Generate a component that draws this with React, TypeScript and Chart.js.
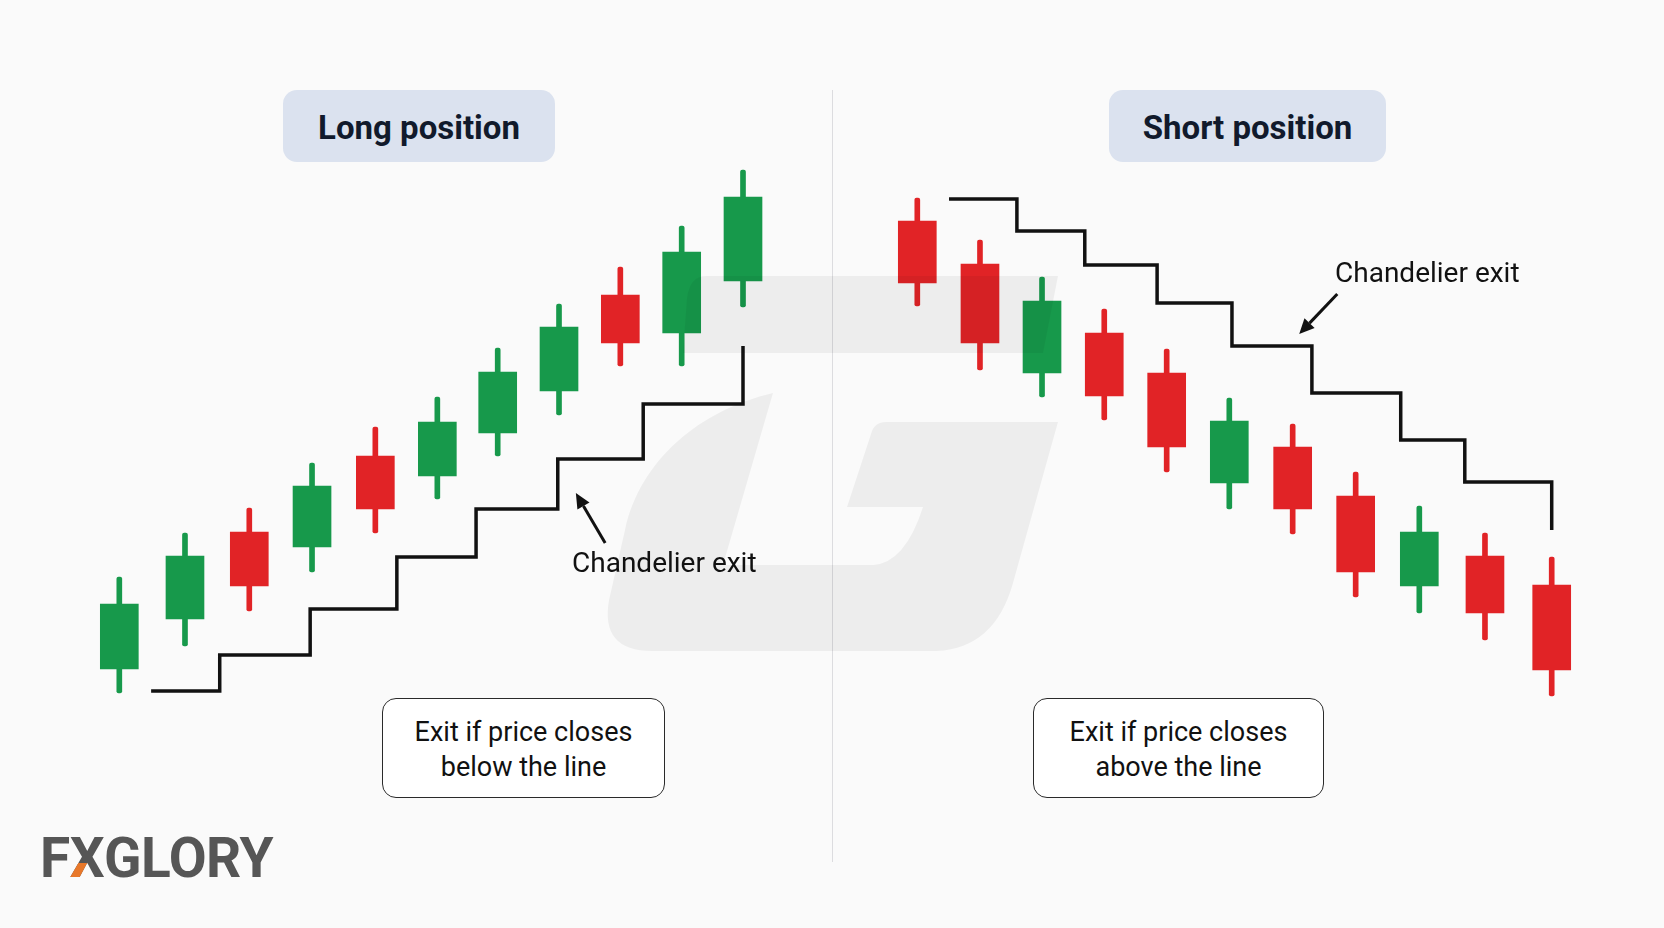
import React, { useEffect, useRef } from "react";
import { Chart, registerables } from "chart.js";

Chart.register(...registerables);

// ---- data (price units) ----
// Candle positions along each panel's time axis (bar slots)
const longX = [0, 1.053, 2.084, 3.09, 4.105, 5.099, 6.067, 7.05, 8.033, 9.017, 10.0];
const shortX = [0, 0.988, 1.966, 2.947, 3.931, 4.918, 5.917, 6.91, 7.913, 8.948, 10.0];

// Long position candles
const longOpen = [25.9, 30.9, 39.6, 38.1, 47.2, 45.2, 49.5, 53.7, 63.3, 59.5, 64.7];
const longHigh = [35.1, 39.5, 42.0, 46.5, 50.1, 53.1, 58.0, 62.4, 66.1, 70.2, 75.8];
const longLow = [23.5, 28.2, 31.7, 35.6, 39.5, 42.9, 47.2, 51.3, 56.2, 56.2, 62.1];
const longClose = [32.4, 37.2, 34.2, 44.2, 41.9, 50.6, 55.6, 60.1, 58.5, 67.6, 73.1];

// Short position candles
const shortOpen = [70.7, 66.4, 55.5, 59.5, 55.5, 44.5, 48.1, 43.2, 34.2, 37.2, 34.3];
const shortHigh = [73.0, 68.8, 65.1, 61.9, 57.9, 53.0, 50.4, 45.6, 42.2, 39.5, 37.1];
const shortLow = [62.2, 55.8, 53.1, 50.8, 45.6, 41.9, 39.4, 33.1, 31.5, 28.8, 23.2];
const shortClose = [64.5, 58.5, 62.7, 53.2, 48.1, 50.7, 41.9, 35.6, 39.6, 31.5, 25.8];

// Chandelier exit (stepped) lines
const longStopX = [0.51, 1.61, 3.06, 4.45, 5.72, 7.03, 8.4, 10.0];
const longStopY = [23.7, 27.3, 31.9, 37.1, 41.9, 46.9, 52.4, 58.2];
const shortStopX = [0.5, 1.57, 2.64, 3.78, 4.96, 6.22, 7.62, 8.63, 10.0];
const shortStopY = [72.9, 69.7, 66.3, 62.5, 58.2, 53.5, 48.8, 44.6, 39.8];

// Annotation arrows [fromX, fromY, toX, toY] in data units
const longArrow = [7.79, 38.5, 7.32, 43.5];
const shortArrow = [6.62, 63.4, 6.02, 59.4];

const GREEN = "#17994b";
const RED = "#e12326";

function candleDatasets(axis: string, xs: number[], open: number[], high: number[], low: number[], close: number[]) {
  const colors = open.map((o, i) => (close[i] >= o ? GREEN : RED));
  return [
    {
      type: "bar",
      xAxisID: axis,
      data: xs.map((x, i) => ({ x, y: [low[i], high[i]] })),
      backgroundColor: colors,
      barThickness: 5,
      grouped: false,
      borderRadius: 2,
      borderSkipped: false,
      borderWidth: 0,
      order: 3,
    },
    {
      type: "bar",
      xAxisID: axis,
      data: xs.map((x, i) => ({ x, y: [open[i], close[i]] })),
      backgroundColor: colors,
      barThickness: 38,
      grouped: false,
      borderWidth: 0,
      order: 2,
    },
  ];
}

function stepDataset(axis: string, xs: number[], ys: number[]) {
  return {
    type: "line",
    xAxisID: axis,
    data: xs.map((x, i) => ({ x, y: ys[i] })),
    borderColor: "#111111",
    borderWidth: 3.5,
    pointRadius: 0,
    stepped: true,
    fill: false,
    borderJoinStyle: "miter",
    borderCapStyle: "butt",
    order: 0,
  };
}

const decorPlugin = {
  id: "decor",
  beforeDraw(chart: any) {
    const ctx = chart.ctx;
    ctx.save();
    ctx.fillStyle = "#fafafa";
    ctx.fillRect(0, 0, chart.width, chart.height);
    ctx.strokeStyle = "#dcdcdf";
    ctx.lineWidth = 1;
    ctx.beginPath();
    ctx.moveTo(832.5, 90);
    ctx.lineTo(832.5, 862);
    ctx.stroke();
    ctx.restore();
  },
  afterDatasetsDraw(chart: any) {
    const ctx = chart.ctx;
    ctx.save();
    ctx.fillStyle = "rgba(0,0,0,0.05)";
    ctx.beginPath();
    ctx.moveTo(706, 276);
    ctx.lineTo(1058, 276);
    ctx.lineTo(1043, 353);
    ctx.lineTo(683, 353);
    ctx.lineTo(687, 298);
    ctx.quadraticCurveTo(690, 276, 706, 276);
    ctx.closePath();
    ctx.fill();

    ctx.beginPath();
    ctx.moveTo(773, 393);
    ctx.bezierCurveTo(700, 410, 640, 460, 625, 530);
    ctx.lineTo(609, 600);
    ctx.quadraticCurveTo(600, 651, 652, 651);
    ctx.lineTo(937, 651);
    ctx.quadraticCurveTo(995, 648, 1013, 583);
    ctx.lineTo(1058, 422);
    ctx.lineTo(886, 422);
    ctx.quadraticCurveTo(874, 422, 871, 434);
    ctx.lineTo(847, 507);
    ctx.lineTo(923, 507);
    ctx.quadraticCurveTo(905, 563, 873, 565);
    ctx.lineTo(723, 565);
    ctx.closePath();
    ctx.fill();

    const drawArrow = (xs: any, a: number[]) => {
      const ys = chart.scales.y;
      const x1 = xs.getPixelForValue(a[0]);
      const y1 = ys.getPixelForValue(a[1]);
      const x2 = xs.getPixelForValue(a[2]);
      const y2 = ys.getPixelForValue(a[3]);
      const ang = Math.atan2(y2 - y1, x2 - x1);
      const head = 15;
      const hw = 7;
      const bx = x2 - head * Math.cos(ang);
      const by = y2 - head * Math.sin(ang);
      ctx.strokeStyle = "#111";
      ctx.fillStyle = "#111";
      ctx.lineWidth = 3;
      ctx.beginPath();
      ctx.moveTo(x1, y1);
      ctx.lineTo(bx, by);
      ctx.stroke();
      ctx.beginPath();
      ctx.moveTo(x2, y2);
      ctx.lineTo(bx + hw * Math.sin(ang), by - hw * Math.cos(ang));
      ctx.lineTo(bx - hw * Math.sin(ang), by + hw * Math.cos(ang));
      ctx.closePath();
      ctx.fill();
    };
    drawArrow(chart.scales.xL, longArrow);
    drawArrow(chart.scales.xR, shortArrow);
    ctx.restore();
  },
};

const pill: React.CSSProperties = {
  position: "absolute",
  top: 90,
  height: 72,
  background: "#dbe2ef",
  borderRadius: 14,
  display: "flex",
  alignItems: "center",
  justifyContent: "center",
  fontFamily: "Roboto, sans-serif",
  fontWeight: 700,
  fontSize: 33,
  color: "#111a2c",
  paddingTop: 2,
  boxSizing: "border-box",
};

const exitBox: React.CSSProperties = {
  position: "absolute",
  top: 698,
  height: 100,
  border: "1.5px solid #2a2a2a",
  borderRadius: 14,
  background: "#ffffff",
  display: "flex",
  flexDirection: "column",
  alignItems: "center",
  justifyContent: "center",
  fontFamily: "Roboto, sans-serif",
  fontSize: 27,
  lineHeight: "35px",
  color: "#111",
  boxSizing: "border-box",
  paddingTop: 4,
};

const annot: React.CSSProperties = {
  position: "absolute",
  fontFamily: "Roboto, sans-serif",
  fontSize: 28,
  lineHeight: "28px",
  color: "#111",
  whiteSpace: "nowrap",
};

export default function App() {
  const ref = useRef<HTMLCanvasElement | null>(null);

  useEffect(() => {
    if (!ref.current) return;
    const chart = new Chart(ref.current, {
      type: "bar",
      data: {
        datasets: [
          ...candleDatasets("xL", longX, longOpen, longHigh, longLow, longClose),
          ...candleDatasets("xR", shortX, shortOpen, shortHigh, shortLow, shortClose),
          stepDataset("xL", longStopX, longStopY),
          stepDataset("xR", shortStopX, shortStopY),
        ] as any,
      },
      options: {
        animation: false,
        responsive: false,
        devicePixelRatio: 1,
        layout: { padding: 0 },
        plugins: { legend: { display: false }, tooltip: { enabled: false } },
        events: [],
        scales: {
          xL: { type: "linear", min: -1.913, max: 24.767, display: false, offset: false },
          xR: { type: "linear", min: -14.459, max: 11.77, display: false, offset: false },
          y: { type: "linear", min: 0, max: 92.8, display: false },
        },
      } as any,
      plugins: [decorPlugin],
    });
    return () => chart.destroy();
  }, []);

  return (
    <div
      style={{
        position: "fixed",
        left: 0,
        top: 0,
        width: 1664,
        height: 928,
        background: "#fafafa",
        overflow: "hidden",
      }}
    >
      <canvas
        ref={ref}
        width={1664}
        height={928}
        style={{ position: "absolute", left: 0, top: 0, width: 1664, height: 928 }}
      />
      <div style={{ ...pill, left: 283, width: 272 }}>Long position</div>
      <div style={{ ...pill, left: 1109, width: 277 }}>Short position</div>

      <div style={{ ...annot, left: 572, top: 549 }}>Chandelier exit</div>
      <div style={{ ...annot, left: 1335, top: 259 }}>Chandelier exit</div>

      <div style={{ ...exitBox, left: 382, width: 283 }}>
        <div>Exit if price closes</div>
        <div>below the line</div>
      </div>
      <div style={{ ...exitBox, left: 1033, width: 291 }}>
        <div>Exit if price closes</div>
        <div>above the line</div>
      </div>

      <div
        style={{
          position: "absolute",
          left: 40,
          top: 831,
          fontFamily: "Roboto, sans-serif",
          fontWeight: 700,
          fontSize: 55,
          lineHeight: "55px",
          letterSpacing: -0.5,
          color: "#565656",
          whiteSpace: "nowrap",
        }}
      >
        <span>F</span>
        <span style={{ position: "relative", display: "inline-block" }}>
          X
          <span
            style={{
              position: "absolute",
              left: 0,
              top: 0,
              color: "#e8782a",
              clipPath: "polygon(0 58%, 52% 58%, 52% 100%, 0 100%)",
            }}
          >
            X
          </span>
        </span>
        <span>GLORY</span>
      </div>
    </div>
  );
}
